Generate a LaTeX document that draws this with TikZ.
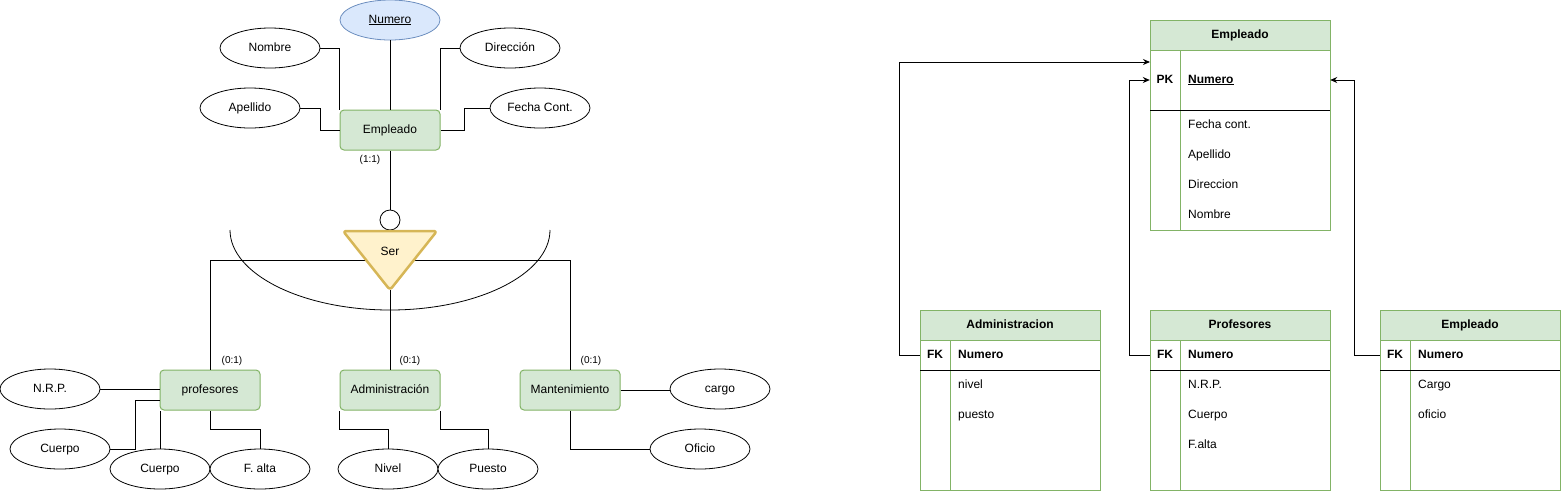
\documentclass[tikz,border=0pt]{standalone}
\usepackage{fontspec}
\setmainfont{Liberation Sans}
\usetikzlibrary{shapes.geometric,arrows.meta}
\definecolor{gfill}{HTML}{D5E8D4}
\definecolor{gdraw}{HTML}{82B366}
\definecolor{bfill}{HTML}{DAE8FC}
\definecolor{bdraw}{HTML}{6C8EBF}
\definecolor{yfill}{HTML}{FFF2CC}
\definecolor{ydraw}{HTML}{D6B656}
\tikzset{
  every node/.style={font=\fontsize{12}{14}\selectfont, inner sep=0pt, text height=8.6pt, text depth=2.4pt},
  ent/.style={draw=gdraw, fill=gfill, rounded corners=4pt, minimum width=100pt, minimum height=40pt, line width=1pt},
  attr/.style={ellipse, draw, fill=white, minimum width=100pt, minimum height=40pt, line width=0.8pt},
  keyattr/.style={attr, draw=bdraw, fill=bfill},
  card/.style={font=\fontsize{10}{12}\selectfont, text height=7.2pt, text depth=2pt},
  conn/.style={line width=1pt},
  hdr/.style={draw=gdraw, fill=gfill, minimum width=180pt, minimum height=30pt, font=\fontsize{12}{14}\selectfont\bfseries, line width=1pt},
  tbody/.style={draw=gdraw, minimum width=180pt, line width=1pt},
  row/.style={minimum width=180pt, minimum height=30pt},
  fld/.style={anchor=west},
  key/.style={font=\fontsize{12}{14}\selectfont\bfseries},
  arr/.style={line width=1pt, -{Stealth[length=7pt,width=6pt]}},
}
\begin{document}
\begin{tikzpicture}[x=1pt,y=-1pt]
\useasboundingbox (0,0) rectangle (1561,491);
% ---------------- ER diagram ----------------
\node[keyattr] (num) at (390,20) {\underline{Numero}};
\node[attr] (nom) at (270,48) {Nombre};
\node[attr] (dir) at (510,48) {Dirección};
\node[attr] (ape) at (250,108) {Apellido};
\node[attr] (fec) at (540,108) {Fecha Cont.};
\node[ent] (emp) at (390,130) {Empleado};
\node[card] (c11) at (370,160) {(1:1)};
\draw[conn] (num) -- (emp);
\draw[conn] (nom.east) -| (emp.north west);
\draw[conn] (dir.west) -| (emp.north east);
\draw[conn] (ape.east) -- ++(20,0) |- (emp.west);
\draw[conn] (fec.west) -- ++(-25,0) |- (emp.east);
\node[circle, draw, fill=white, minimum size=20pt, line width=0.8pt, text height=0pt, text depth=0pt] (circ) at (390,220) {};
\draw[conn] (emp.south) -- (circ.north);
% arc
\draw[line width=0.8pt] (230,230) .. controls (230,274) and (302,310) .. (390,310)
  .. controls (478,310) and (550,274) .. (550,230);
% subentities
\node[ent] (prof) at (210,390) {profesores};
\node[ent] (adm) at (390,390) {Administración};
\node[ent] (man) at (570,390) {Mantenimiento};
\coordinate (serc) at (390,260);
\coordinate (serb) at (390,290);
\draw[conn] (serc) -| (prof.north);
\draw[conn] (serc) -| (man.north);
\draw[conn] (serb) -- (adm.north);
% triangle
\draw[draw=ydraw, fill=yfill, line width=2.5pt, rounded corners=3pt, line join=round]
  (343,231) -- (437,231) -- (390,290) -- cycle;
\node (ser) at (390,252) {Ser};
\node[card] (c01a) at (232,361) {(0:1)};
\node[card] (c01b) at (410,361) {(0:1)};
\node[card] (c01c) at (591,361) {(0:1)};
% attributes of subentities
\node[attr] (nrp) at (50,389) {N.R.P.};
\node[attr] (cu1) at (60,449) {Cuerpo};
\node[attr] (cu2) at (160,469) {Cuerpo};
\node[attr] (fal) at (260,469) {F. alta};
\node[attr] (niv) at (388,469) {Nivel};
\node[attr] (pue) at (488,469) {Puesto};
\node[attr] (car) at (720,389) {cargo};
\node[attr] (ofi) at (700,449) {Oficio};
\draw[conn] (nrp.east) -- (nrp.east -| prof.west);
\draw[conn] (cu1.east) -- ++(25,0) |- ([yshift=-10pt]prof.west);
\draw[conn] (cu2.north) -- (cu2.north |- prof.south);
\draw[conn] (fal.north) -- ++(0,-19) -| (prof.south);
\draw[conn] (niv.north) -- ++(0,-19) -| (adm.south west);
\draw[conn] (pue.north) -- ++(0,-19) -| (adm.south east);
\draw[conn] (man.east) -- (man.east -| car.west);
\draw[conn] (man.south) |- (ofi.west);
% ---------------- Tables ----------------
% Empleado
\node[hdr] (eH) at (1240,35) {Empleado};
\node[tbody, minimum height=180pt] (eB) at (1240,140) {};
\draw[draw=gdraw, line width=1pt] (1180,50) -- (1180,230);
\draw[line width=1pt] (1150,110) -- (1330,110);
\node[row, minimum height=60pt] (ePK) at (1240,80) {};
\node[key] (ePKt) at (1165,80) {PK};
\node[fld, key] (eNum) at (1188,80) {\underline{Numero}};
\node[fld] (e1) at (1188,125) {Fecha cont.};
\node[fld] (e2) at (1188,155) {Apellido};
\node[fld] (e3) at (1188,185) {Direccion};
\node[fld] (e4) at (1188,215) {Nombre};
\coordinate (eIn) at (1150,62);
% Administracion
\node[hdr] (aH) at (1010,325) {Administracion};
\node[tbody, minimum height=150pt] (aB) at (1010,415) {};
\draw[draw=gdraw, line width=1pt] (950,340) -- (950,490);
\draw[line width=1pt] (920,370) -- (1100,370);
\node[row] (aFK) at (1010,355) {};
\node[key] at (935,355) {FK};
\node[fld, key] at (958,355) {Numero};
\node[fld] at (958,385) {nivel};
\node[fld] at (958,415) {puesto};
% Profesores
\node[hdr] (pH) at (1240,325) {Profesores};
\node[tbody, minimum height=150pt] (pB) at (1240,415) {};
\draw[draw=gdraw, line width=1pt] (1180,340) -- (1180,490);
\draw[line width=1pt] (1150,370) -- (1330,370);
\node[row] (pFK) at (1240,355) {};
\node[key] at (1165,355) {FK};
\node[fld, key] at (1188,355) {Numero};
\node[fld] at (1188,385) {N.R.P.};
\node[fld] at (1188,415) {Cuerpo};
\node[fld] at (1188,445) {F.alta};
% Empleado (2)
\node[hdr] (mH) at (1470,325) {Empleado};
\node[tbody, minimum height=150pt] (mB) at (1470,415) {};
\draw[draw=gdraw, line width=1pt] (1410,340) -- (1410,490);
\draw[line width=1pt] (1380,370) -- (1560,370);
\node[row] (mFK) at (1470,355) {};
\node[key] at (1395,355) {FK};
\node[fld, key] at (1418,355) {Numero};
\node[fld] at (1418,385) {Cargo};
\node[fld] at (1418,415) {oficio};
% relationships
\draw[arr] (aFK.west) -- ++(-20,0) |- (eIn);
\draw[arr] (pFK.west) -- ++(-20,0) |- (ePK.west);
\draw[arr] (mFK.west) -- ++(-25,0) |- (ePK.east);
\end{tikzpicture}
\end{document}
